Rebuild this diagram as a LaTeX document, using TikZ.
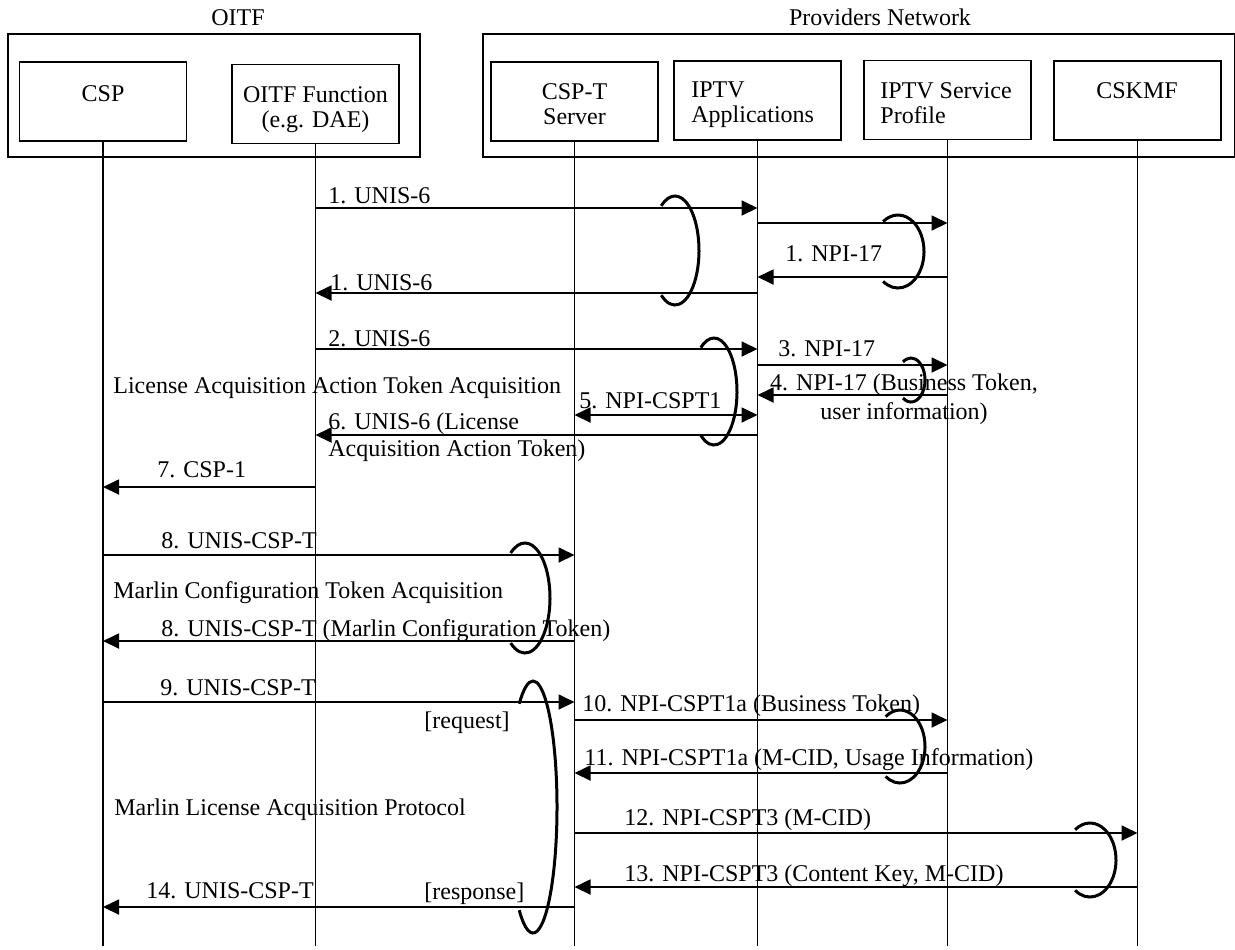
\documentclass[tikz,border=0pt]{standalone}
\usepackage{fontspec}
\setmainfont{Liberation Serif}
\usetikzlibrary{arrows.meta, calc, positioning}

\begin{document}
\begin{tikzpicture}[x=0.5pt, y=-0.5pt, font=\fontsize{12}{12.5}\selectfont]
        \useasboundingbox (0,0) rectangle (1235,949);

        % the two domains
        \tikzstyle{grp} = [draw, line width=0.8pt, anchor=north west, minimum height=61.5pt];
        \node [grp, minimum width=206pt] (oitf) at (7,33) { };
        \node [grp, minimum width=376pt] (prov) at (482,33) { };
        \node [anchor=base, inner sep=0pt] (oitf-t) at (238,25) {OITF};
        \node [anchor=base, inner sep=0pt] (prov-t) at (880,25) {Providers Network};

        % the functional entities
        \tikzstyle{unit} = [draw, line width=0.65pt, minimum width=83.5pt, minimum height=39.5pt];
        \node [unit] (csp)   at (103,101.5)   { };
        \node [unit] (ofn)   at (315.5,104)   { };
        \node [unit] (cspt)  at (574.5,101.5) { };
        \node [unit] (iapp)  at (757.5,100.5) { };
        \node [unit] (isp)   at (947.5,100)   { };
        \node [unit, line width=1pt] (cskmf) at (1137.5,100) { };

        \tikzstyle{txt} = [inner sep=0pt];
        \node [txt, anchor=base] (csp-t) at (103,101) {CSP};
        \node [txt, align=center] (ofn-t) at (315.5,109.5) {OITF Function\\(e.g. DAE)};
        \node [txt, align=center] (cspt-t) at (574.5,104.5) {CSP-T\\Server};
        \node [txt, align=left, anchor=west] (iapp-t) at (691,104.5) {IPTV\\Applications};
        \node [txt, align=left, anchor=west] (isp-t) at (880,103) {IPTV Service\\Profile};
        \node [txt, anchor=base] (cskmf-t) at (1137,98) {CSKMF};

        % life lines
        \tikzstyle{life} = [line width=0.65pt];
        \foreach \u in {csp, ofn, cspt, iapp, isp, cskmf}{
            \coordinate (\u-end) at (\u.south |- 0,946);
            \draw [life] (\u.south) -- (\u-end);
        }

        % messages
        \tikzstyle{msg} = [line width=0.9pt, -{Triangle[length=8pt, width=7.5pt]}];
        \tikzstyle{dmsg} = [line width=0.9pt, {Triangle[length=8pt, width=7.5pt]}-{Triangle[length=8pt, width=7.5pt]}];
        \foreach \a/\b/\y/\s [count=\i] in {ofn/iapp/208/msg, iapp/isp/223/msg, isp/iapp/277/msg,
                iapp/ofn/293/msg, ofn/iapp/349/msg, iapp/isp/365/msg, isp/iapp/395/msg,
                cspt/iapp/415/dmsg, iapp/ofn/435/msg, ofn/csp/487/msg, csp/cspt/555/msg,
                cspt/csp/641/msg, csp/cspt/702/msg, cspt/isp/720/msg, isp/cspt/773/msg,
                cspt/cskmf/833/msg, cskmf/cspt/887/msg, cspt/csp/907/msg}{
            \coordinate (m\i s) at (\a |- 0,\y);
            \coordinate (m\i e) at (\b |- 0,\y);
            \draw [\s] (m\i s) -- (m\i e);
        }

        % message labels
        \tikzstyle{lab} = [inner sep=0pt, anchor=base west];
        \foreach \x/\y/\t [count=\i] in {328/203/{1. UNIS-6}, 785/261/{1. NPI-17},
                330/290/{1. UNIS-6}, 328/346/{2. UNIS-6}, 778/356/{3. NPI-17},
                113/393/{License Acquisition Action Token Acquisition},
                579/408/{5. NPI-CSPT1}, 157/477/{7. CSP-1}, 161/548/{8. UNIS-CSP-T},
                113/598/{Marlin Configuration Token Acquisition},
                161/636/{8. UNIS-CSP-T (Marlin Configuration Token)},
                160/695/{9. UNIS-CSP-T}, 424/728/{[request]},
                582/711/{10. NPI-CSPT1a (Business Token)},
                584/765/{11. NPI-CSPT1a (M-CID, Usage Information)},
                114/815/{Marlin License Acquisition Protocol},
                624/825/{12. NPI-CSPT3 (M-CID)},
                624/881/{13. NPI-CSPT3 (Content Key, M-CID)},
                146/898/{14. UNIS-CSP-T}, 424/899/{[response]}}{
            \node [lab] (lab\i) at (\x,\y) {\t};
        }
        \node [txt, align=center] (lab-bt) at (904,399.3) {4. NPI-17 (Business Token,\\[2pt]user information)};
        \node [txt, align=left, anchor=west] (lab-lic) at (328,437) {6. UNIS-6 (License\\[1pt]Acquisition Action Token)};

        % loops
        \tikzstyle{loopy} = [line width=1.5pt];
        \foreach \cx/\cy/\rx/\ry in {675/250.5/24/54.5, 898/251.5/26/36.5, 714/391.5/23/53.5,
                911/380/14/22, 525/598/25/55, 533/807/24/126, 900/746.5/25/36.5, 1090/860/26/37}{
            \draw [loopy] ($(\cx,\cy) + ({\rx*cos(125)},{\ry*sin(125)})$)
                arc [start angle=125, end angle=-125, x radius=\rx, y radius=\ry];
        }
\end{tikzpicture}
\end{document}
